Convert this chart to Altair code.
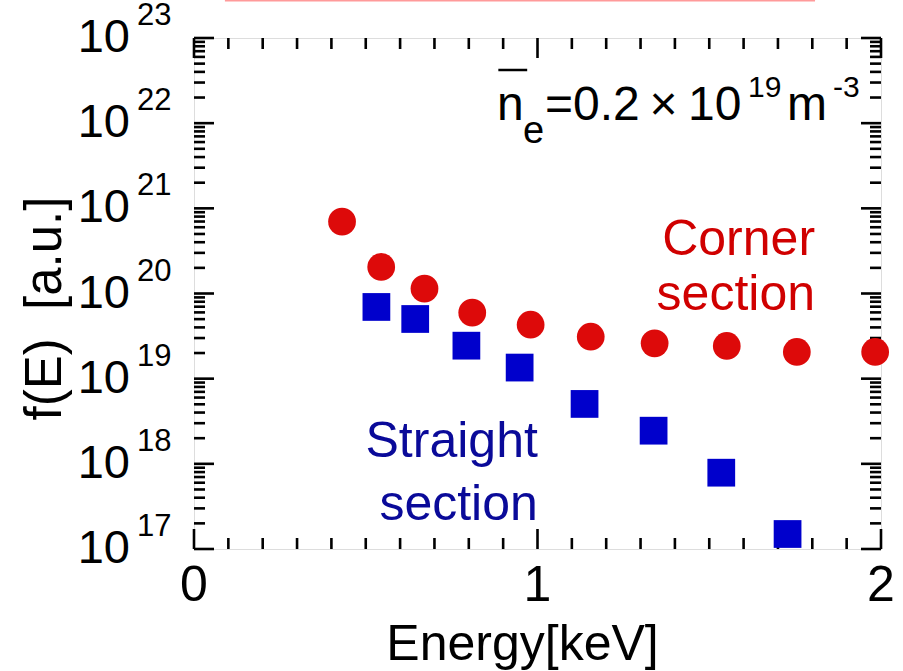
import altair as alt
import pandas as pd

# ---------------- data ----------------
corner_E = [0.431, 0.545, 0.671, 0.810, 0.980, 1.155, 1.341, 1.551, 1.755, 1.983]
corner_f = [6.97e20, 2.05e20, 1.14e20, 5.96e19, 4.30e19, 3.11e19, 2.60e19, 2.42e19, 2.06e19, 2.06e19]

straight_E = [0.531, 0.644, 0.793, 0.948, 1.137, 1.338, 1.535, 1.728]
straight_f = [6.95e19, 5.02e19, 2.44e19, 1.35e19, 5.05e18, 2.45e18, 7.87e17, 1.50e17]

x_major = [0, 1, 2]
x_labels = ["0", "1", "2"]
x_minor = [0.1, 0.2, 0.3, 0.4, 0.5, 0.6, 0.7, 0.8, 0.9,
           1.1, 1.2, 1.3, 1.4, 1.5, 1.6, 1.7, 1.8, 1.9]
y_decades = [1e17, 1e18, 1e19, 1e20, 1e21, 1e22, 1e23]
y_exponents = ["17", "18", "19", "20", "21", "22", "23"]
y_multipliers = [2, 3, 4, 5, 6, 7, 8, 9]
y_minor = [m * d for d in y_decades[:-1] for m in y_multipliers]

# annotation texts (anchor positions in data units)
corner_text = ["Corner", "section"]
corner_text_E = [1.808, 1.808]
corner_text_f = [2.83e20, 6.40e19]
straight_text = ["Straight", "section"]
straight_text_E = [1.001, 1.001]
straight_text_f = [1.20e18, 2.19e17]

ne_main_text = ["n", "=0.2", "×", "10", "m"]
ne_main_E = [0.882, 1.022, 1.326, 1.438, 1.726]
ne_main_f = [1.09e22] * 5
ne_sub_text = ["e"]
ne_sub_E = [0.958]
ne_sub_f = [5.85e21]
ne_sup_text = ["19", "-3"]
ne_sup_E = [1.613, 1.860]
ne_sup_f = [2.03e22, 2.03e22]
ne_bar_E = [0.886]
ne_bar_E2 = [0.970]
ne_bar_f = [4.21e22]

# cropped underline of the (cut-off) figure heading at the very top
head_line_E = [0.09]
head_line_E2 = [1.808]
head_line_f = [2.75e23]

# ---------------- styling ----------------
FONT = "Liberation Sans"
RED = "#dd0a0a"
RED_TXT = "#d00000"
BLUE = "#0000cc"
NAVY = "#0a0a99"
W, H = 687, 511

xs = alt.Scale(domain=[0, 2], nice=False, zero=False)
ys = alt.Scale(type="log", domain=[1e17, 1e23], nice=False)

x_axis = alt.Axis(labels=False, ticks=False, tickSize=0, domain=False, grid=False,
                  title="Energy[keV]", titleFontSize=50, titleFont=FONT, titleFontWeight="normal",
                  titleColor="black", titleX=328, titleY=110, titleBaseline="alphabetic",
                  titleAlign="center")
y_axis = alt.Axis(labels=False, ticks=False, tickSize=0, domain=False, grid=False,
                  title="f(E)\u00a0 [a.u.]", titleFontSize=51, titleFont=FONT,
                  titleFontWeight="normal", titleColor="black", titleX=-134, titleY=270,
                  titleAngle=270, titleAlign="center", titleBaseline="alphabetic")


def X(field):
    return alt.X(field, type="quantitative", scale=xs, axis=x_axis)


def Y(field):
    return alt.Y(field, type="quantitative", scale=ys, axis=y_axis)


df_corner = pd.DataFrame({"E": corner_E, "f": corner_f})
df_straight = pd.DataFrame({"E": straight_E, "f": straight_f})

circles = alt.Chart(df_corner).mark_point(shape="circle", filled=True, size=770, opacity=1,
                                          color=RED, strokeWidth=0).encode(x=X("E"), y=Y("f"))
squares = alt.Chart(df_straight).mark_point(shape="square", filled=True, size=770, opacity=1,
                                            color=BLUE, strokeWidth=0).encode(x=X("E"), y=Y("f"))

# ---------------- inward ticks on all four sides ----------------
df_xmaj = pd.DataFrame({"v": x_major, "lab": x_labels})
df_xmin = pd.DataFrame({"v": x_minor})
df_ymaj = pd.DataFrame({"v": y_decades})
df_ymin = pd.DataFrame({"v": y_minor})

TW = 2.6
MAJ, MIN = 20, 11


def xticks(df, length):
    bottom = alt.Chart(df).mark_rule(color="black", strokeWidth=TW).encode(
        x=X("v"), y=alt.value(H), y2=alt.value(H - length))
    top = alt.Chart(df).mark_rule(color="black", strokeWidth=TW).encode(
        x=X("v"), y=alt.value(0), y2=alt.value(length))
    return [bottom, top]


def yticks(df, length):
    left = alt.Chart(df).mark_rule(color="black", strokeWidth=TW).encode(
        y=Y("v"), x=alt.value(0), x2=alt.value(length))
    right = alt.Chart(df).mark_rule(color="black", strokeWidth=TW).encode(
        y=Y("v"), x=alt.value(W), x2=alt.value(W - length))
    return [left, right]


tick_layers = xticks(df_xmaj, MAJ) + xticks(df_xmin, MIN) + yticks(df_ymaj, MAJ) + yticks(df_ymin, MIN)

# ---------------- tick labels ----------------
xlab = alt.Chart(df_xmaj).mark_text(font=FONT, fontSize=50, align="center",
                                    baseline="alphabetic", dy=52, color="black").encode(
    x=X("v"), y=alt.value(H), text="lab:N")

df_ylab = pd.DataFrame({"v": y_decades, "exp": y_exponents})
ylab_base = alt.Chart(df_ylab).mark_text(font=FONT, fontSize=47, align="right",
                                         baseline="alphabetic", dy=14, color="black").encode(
    y=Y("v"), x=alt.value(-64), text=alt.value("10"))
ylab_exp = alt.Chart(df_ylab).mark_text(font=FONT, fontSize=31, align="left",
                                        baseline="alphabetic", dy=-13, color="black").encode(
    y=Y("v"), x=alt.value(-57), text="exp:N")


# ---------------- annotations ----------------
def text_layer(texts, es, fs, size, color, align):
    df = pd.DataFrame({"t": texts, "E": es, "f": fs})
    return alt.Chart(df).mark_text(font=FONT, fontSize=size, color=color, align=align,
                                   baseline="alphabetic").encode(x=X("E"), y=Y("f"), text="t:N")


corner_lbl = text_layer(corner_text, corner_text_E, corner_text_f, 50, RED_TXT, "right")
straight_lbl = text_layer(straight_text, straight_text_E, straight_text_f, 50, NAVY, "right")
ne_main = text_layer(ne_main_text, ne_main_E, ne_main_f, 48, "black", "left")
ne_sub = text_layer(ne_sub_text, ne_sub_E, ne_sub_f, 38, "black", "left")
ne_sup = text_layer(ne_sup_text, ne_sup_E, ne_sup_f, 30, "black", "left")
ne_bar = alt.Chart(pd.DataFrame({"E": ne_bar_E, "E2": ne_bar_E2, "f": ne_bar_f})).mark_rule(
    color="black", strokeWidth=2.5).encode(x=X("E"), x2="E2", y=Y("f"))
head_line = alt.Chart(pd.DataFrame({"E": head_line_E, "E2": head_line_E2, "f": head_line_f})).mark_rule(
    color="#ff9a9a", strokeWidth=2).encode(x=X("E"), x2="E2", y=Y("f"))

chart = alt.layer(
    *tick_layers, squares, circles, xlab, ylab_base, ylab_exp,
    corner_lbl, straight_lbl, ne_main, ne_sub, ne_sup, ne_bar, head_line
).properties(
    width=W, height=H,
    autosize=alt.AutoSizeParams(type="none"),
    padding={"left": 194, "top": 38, "right": 22, "bottom": 122},
    background="white",
).configure_view(
    stroke="black", strokeWidth=3
).configure(font=FONT)

chart.save("out.html", embed_options={"renderer": "svg", "actions": False})
